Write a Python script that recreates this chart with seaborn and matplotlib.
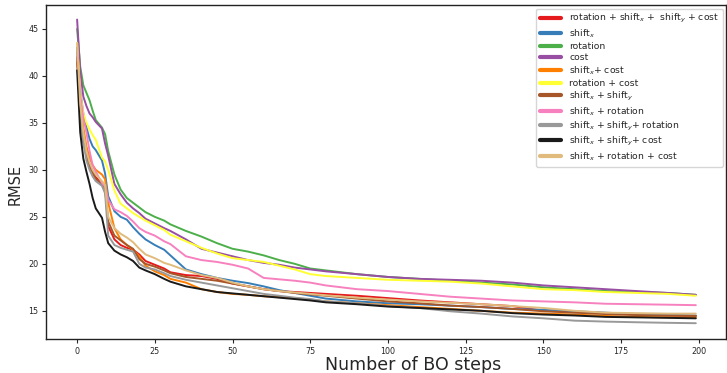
import numpy as np
import pandas as pd
import seaborn as sns
import matplotlib
matplotlib.use("Agg")
import matplotlib.pyplot as plt
from matplotlib.lines import Line2D

steps = [0, 1, 2, 3, 4, 5, 6, 8, 9, 10, 12, 14, 16, 18, 20, 22, 25, 28, 30, 35, 40, 45,
         50, 55, 60, 65, 70, 75, 80, 90, 100, 110, 120, 130, 140, 150, 160, 170, 180, 190, 199]

labels = [
    r"rotation + shift$_x$ +  shift$_y$ + cost",
    r"shift$_x$",
    r"rotation",
    r"cost",
    r"shift$_x$+ cost",
    r"rotation + cost",
    r"shift$_x$ + shift$_y$",
    r"shift$_x$ + rotation",
    r"shift$_x$ + shift$_y$+ rotation",
    r"shift$_x$ + shift$_y$+ cost",
    r"shift$_x$ + rotation + cost",
]

colors = ["#e41a1c", "#377eb8", "#4daf4a", "#984ea3", "#ff7f00", "#ffff33",
          "#a65628", "#f781bf", "#999999", "#1a1a1a", "#e0bb7d"]

rot_sx_sy_cost = [41.5, 36.5, 33.5, 31.5, 30.5, 29.8, 29.2, 28.7, 28.2, 24.0, 22.6, 22.0, 21.7, 21.5, 21.0, 20.3,
                  19.9, 19.5, 19.1, 18.8, 18.7, 18.4, 17.9, 17.6, 17.3, 17.1, 17.0, 16.9, 16.8, 16.6, 16.35,
                  16.1, 15.9, 15.7, 15.5, 15.0, 14.9, 14.75, 14.6, 14.5, 14.45]
shift_x = [43.0, 38.5, 36.0, 34.5, 33.3, 32.5, 32.1, 31.0, 29.6, 27.2, 25.6, 25.0, 24.7, 23.9, 23.2, 22.6,
           22.0, 21.5, 20.9, 19.4, 18.9, 18.5, 18.2, 17.95, 17.6, 17.2, 16.9, 16.6, 16.3, 16.0, 15.8,
           15.7, 15.55, 15.4, 15.2, 15.1, 14.95, 14.8, 14.65, 14.55, 14.5]
rotation = [45.0, 41.0, 39.0, 38.2, 37.4, 36.3, 35.3, 34.5, 33.8, 32.0, 29.5, 27.9, 27.0, 26.5, 26.0, 25.5,
            25.0, 24.6, 24.2, 23.5, 22.9, 22.2, 21.6, 21.3, 20.9, 20.4, 20.0, 19.5, 19.3, 18.9, 18.6,
            18.4, 18.2, 18.0, 17.8, 17.5, 17.3, 17.1, 17.0, 16.9, 16.7]
cost = [46.0, 40.5, 37.8, 36.8, 36.0, 35.6, 35.1, 34.4, 32.8, 31.5, 28.5, 27.4, 26.5, 25.9, 25.4, 24.8,
        24.3, 23.8, 23.5, 22.6, 21.6, 21.2, 20.8, 20.4, 20.1, 19.9, 19.6, 19.4, 19.2, 18.9, 18.6,
        18.4, 18.3, 18.2, 18.0, 17.7, 17.5, 17.3, 17.1, 16.9, 16.7]
sx_cost = [42.0, 37.5, 34.5, 32.5, 31.3, 30.5, 30.0, 29.5, 29.0, 26.5, 23.8, 22.6, 22.0, 21.5, 20.8, 19.8,
           19.2, 18.8, 18.4, 18.0, 17.3, 17.0, 16.8, 16.7, 16.55, 16.45, 16.35, 16.2, 16.0, 15.8, 15.6,
           15.4, 15.2, 15.0, 14.8, 14.7, 14.6, 14.45, 14.35, 14.3, 14.3]
rot_cost = [43.5, 38.3, 36.0, 35.0, 34.3, 33.7, 33.2, 31.3, 30.9, 30.0, 27.8, 26.4, 25.9, 25.4, 25.0, 24.6,
            24.1, 23.6, 23.1, 22.4, 21.7, 21.1, 20.6, 20.4, 20.2, 19.8, 19.4, 18.9, 18.7, 18.5, 18.3,
            18.2, 18.1, 17.9, 17.6, 17.3, 17.2, 17.0, 16.9, 16.8, 16.6]
sx_sy = [42.0, 36.0, 33.0, 31.5, 30.3, 29.7, 29.0, 28.5, 28.0, 24.5, 23.0, 22.5, 22.0, 21.6, 20.5, 20.0,
         19.7, 19.3, 19.0, 18.6, 18.4, 18.2, 17.9, 17.6, 17.3, 17.1, 16.9, 16.75, 16.6, 16.3, 16.0,
         15.8, 15.55, 15.4, 15.2, 14.95, 14.8, 14.65, 14.55, 14.5, 14.45]
sx_rot = [42.5, 38.0, 35.5, 34.0, 32.0, 30.5, 29.8, 28.6, 28.2, 26.8, 25.8, 25.5, 25.1, 24.5, 23.8, 23.4,
          23.0, 22.4, 22.1, 20.8, 20.4, 20.2, 19.9, 19.5, 18.5, 18.35, 18.2, 18.0, 17.7, 17.3, 17.1,
          16.8, 16.5, 16.3, 16.1, 16.0, 15.9, 15.75, 15.7, 15.65, 15.6]
sx_sy_rot = [43.0, 36.0, 33.0, 31.0, 30.0, 29.3, 28.8, 28.3, 27.5, 23.0, 22.0, 21.7, 21.5, 21.3, 20.0, 19.6,
             19.4, 19.0, 18.7, 18.3, 18.0, 17.7, 17.4, 17.1, 16.8, 16.6, 16.4, 16.25, 16.0, 15.8, 15.5,
             15.3, 14.95, 14.7, 14.4, 14.2, 13.95, 13.85, 13.78, 13.72, 13.68]
sx_sy_cost = [40.6, 34.0, 31.2, 29.8, 28.5, 27.0, 25.9, 24.9, 23.4, 22.2, 21.4, 21.0, 20.7, 20.3, 19.6, 19.3,
              18.9, 18.4, 18.1, 17.6, 17.3, 17.0, 16.85, 16.7, 16.55, 16.4, 16.25, 16.1, 15.9, 15.7, 15.45,
              15.3, 15.15, 15.0, 14.75, 14.6, 14.5, 14.35, 14.3, 14.25, 14.2]
sx_rot_cost = [43.5, 37.0, 34.0, 32.0, 30.8, 30.0, 29.5, 28.8, 28.4, 25.0, 23.8, 23.2, 22.8, 22.3, 21.6, 21.0,
               20.6, 20.1, 19.9, 19.3, 18.8, 18.5, 18.0, 17.6, 17.3, 17.1, 16.95, 16.8, 16.65, 16.4, 16.2,
               16.0, 15.85, 15.7, 15.5, 15.3, 15.0, 14.8, 14.75, 14.7, 14.7]

series = [rot_sx_sy_cost, shift_x, rotation, cost, sx_cost, rot_cost, sx_sy, sx_rot,
          sx_sy_rot, sx_sy_cost, sx_rot_cost]

frames = []
for lab, vals in zip(labels, series):
    frames.append(pd.DataFrame({"step": steps, "RMSE": vals, "method": lab}))
df = pd.concat(frames, ignore_index=True)

sns.set_style("ticks")
fig = plt.figure(figsize=(7.27, 3.73), dpi=100)
ax = fig.add_axes([0.0633, 0.0912, 0.9353, 0.8954])

sns.lineplot(data=df, x="step", y="RMSE", hue="method", hue_order=labels,
             palette=colors, linewidth=1.4, ax=ax, legend=False)

ax.set_ylim(12.0, 47.55)
ax.set_xlim(-10, 208.7)
ax.set_xticks([0, 25, 50, 75, 100, 125, 150, 175, 200])
ax.set_yticks([15, 20, 25, 30, 35, 40, 45])
ax.tick_params(labelsize=5.8, length=3, width=0.8, pad=2.5)
ax.set_xlabel("Number of BO steps", fontsize=12.5)
ax.xaxis.label.set_va("baseline")
ax.xaxis.set_label_coords(0.540, -0.093)
ax.set_ylabel("RMSE", fontsize=10.5)
ax.yaxis.set_label_coords(-0.035, 0.464)
for s in ax.spines.values():
    s.set_linewidth(1.0)
    s.set_color("#222222")

handles = [Line2D([0], [0], color=c, lw=3) for c in colors]
leg = ax.legend(handles, labels, loc="upper right", fontsize=6.65, frameon=True,
                labelspacing=0.23, handlelength=2.3, handletextpad=0.9,
                borderaxespad=0.2, bbox_to_anchor=(0.998, 0.995))
leg.get_frame().set_edgecolor("#cccccc")

fig.savefig("out.png", dpi=100)
